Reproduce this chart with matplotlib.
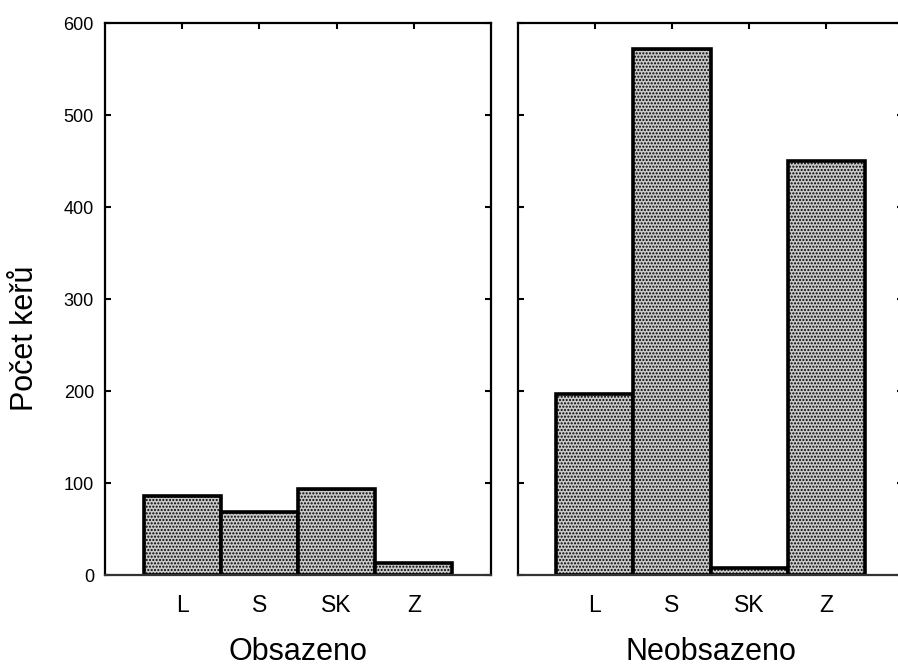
import matplotlib
matplotlib.use("Agg")
import matplotlib.pyplot as plt
import numpy as np

plt.rcParams['font.family'] = ['Liberation Sans', 'DejaVu Sans']
plt.rcParams['hatch.color'] = '#9a9a9a'

categories = ["L", "S", "SK", "Z"]
obsazeno = [86, 68, 93, 13]
neobsazeno = [197, 572, 8, 450]
groups = ["Obsazeno", "Neobsazeno"]
yticks = [0, 100, 200, 300, 400, 500, 600]
ylabel = "Počet keřů"

W, H = 898, 668
fig = plt.figure(figsize=(W / 100, H / 100), dpi=100)

bottom_px, top_px = 575, 23
left1, left2, width_px = 105, 517.5, 386
hpx = bottom_px - top_px
ax1 = fig.add_axes([left1 / W, (H - bottom_px) / H, width_px / W, hpx / H])
ax2 = fig.add_axes([left2 / W, (H - bottom_px) / H, width_px / W, hpx / H])

x = np.arange(len(categories))
for ax, vals, name in [(ax1, obsazeno, groups[0]), (ax2, neobsazeno, groups[1])]:
    ax.bar(x, vals, width=1.0, color='#c9c9c9', edgecolor='black', linewidth=2.6,
           hatch='.....', zorder=2)
    ax.set_xlim(-1, 4)
    ax.set_ylim(0, 600)
    ax.set_xticks(x)
    ax.set_xticklabels(categories, fontsize=16.5)
    ax.set_yticks(yticks)
    for s in ax.spines.values():
        s.set_linewidth(1.6)
        s.set_color('black')
    ax.spines['bottom'].set_color('#333333')
    ax.tick_params(axis='x', direction='in', length=4, width=1.5, top=True, bottom=True, pad=14)
    ax.tick_params(axis='y', direction='in', length=4, width=1.5, left=True, right=True)
    ax.set_xlabel(name, fontsize=22, va='baseline')
    ax.xaxis.set_label_coords(0.5, (bottom_px - 660) / hpx)

ax1.tick_params(axis='y', labelsize=13, pad=8)
ax1.set_ylabel(ylabel, fontsize=22, va='center')
ax1.yaxis.set_label_coords((25 - left1) / width_px, (bottom_px - 338) / hpx)
ax2.tick_params(axis='y', labelleft=False)

fig.savefig("out.png", dpi=100)
